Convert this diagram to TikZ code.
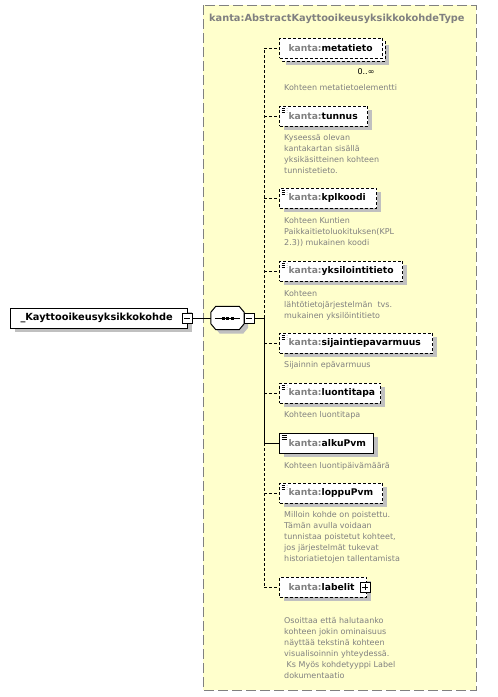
\documentclass[tikz,border=0pt]{standalone}
\usepackage{fontspec}
\setmainfont{DejaVu Sans}
\usetikzlibrary{shadows}
\definecolor{ybg}{RGB}{255,255,204}
\definecolor{kgray}{RGB}{128,128,128}
\definecolor{dgray}{RGB}{128,128,128}
\definecolor{bgray}{RGB}{128,128,128}
\definecolor{shd}{RGB}{192,192,192}
\newcommand\eltxt[2]{\hspace*{9pt}\makebox[#1][l]{\textcolor{kgray}{kanta:}#2}}
\begin{document}
\begin{tikzpicture}[x=1pt,y=-1pt,
  shad/.style={general shadow={fill=shd, shadow xshift=4pt, shadow yshift=-4pt}},
  ybox/.style={fill=ybg, draw=bgray, line width=1pt, dash pattern=on 10pt off 4pt},
  elembase/.style={draw=black, fill=white, line width=1pt, minimum height=20pt,
    inner xsep=0pt, inner ysep=0pt, anchor=west, font=\fontsize{9.2}{11}\selectfont\bfseries},
  elem/.style={elembase, shad},
  optbox/.style={dash pattern=on 3pt off 2pt},
  doc/.style={path picture={\foreach \k in {2pt,4pt,6pt}{\draw[line width=0.7pt]
      ([xshift=2pt,yshift=-\k]path picture bounding box.north west) -- ++(5pt,0pt);}}},
  desc/.style={anchor=north west, inner sep=0pt, align=left, text=dgray,
    font=\fontsize{8}{11}\selectfont},
  conn/.style={line width=1pt},
  optconn/.style={conn, dash pattern=on 3pt off 2pt},
  pmbase/.style={draw, fill=white, line width=0.8pt, minimum size=10pt, inner sep=0pt},
  minusbox/.style={pmbase,
    path picture={\draw[line width=0.8pt] ([xshift=2pt]path picture bounding box.west)
      -- ([xshift=-2pt]path picture bounding box.east);}},
  plusbox/.style={pmbase, path picture={\draw[line width=0.8pt]
      ([xshift=2pt]path picture bounding box.west) -- ([xshift=-2pt]path picture bounding box.east)
      ([yshift=-2pt]path picture bounding box.north) -- ([yshift=2pt]path picture bounding box.south);}}
]
\useasboundingbox (0,0) rectangle (498,697);
% type box
\draw[ybox] (203,5) rectangle (476,690);
\node[anchor=west, inner sep=0pt, text=kgray, font=\fontsize{9.8}{11}\selectfont\bfseries] (title) at (209,19) {kanta:AbstractKayttooikeusyksikkokohdeType};

% main element
\node[elem, minimum width=177pt, font=\fontsize{9.8}{11}\selectfont\bfseries] (main) at (10,318) {\hspace*{10pt}\makebox[167pt][l]{\_Kayttooikeusyksikkokohde}};
\node[minusbox] (mainm) at (187,318) {};

% sequence compositor
\node[minimum width=33pt, minimum height=23pt, inner sep=0pt] (seq) at (227.5,318) {};
\draw[line width=1pt, fill=white, shad] ([xshift=5pt]seq.north west) -- ([xshift=-5pt]seq.north east)
  -- ([yshift=-6pt]seq.north east) -- ([yshift=6pt]seq.south east) -- ([xshift=-5pt]seq.south east)
  -- ([xshift=5pt]seq.south west) -- ([yshift=6pt]seq.south west) -- ([yshift=-6pt]seq.north west) -- cycle;
\draw[line width=1pt] ([xshift=4pt]seq.west) -- ([xshift=-4pt]seq.east);
\foreach \dx in {-4.5pt,0pt,4.5pt}{\fill ([xshift=\dx]seq.center) ++(-1.5pt,-1.5pt) rectangle ++(3pt,3pt);}
\node[minusbox] (seqm) at (249,318) {};

\draw[conn] (mainm.east) -- (seq.west);

% bus
\coordinate (vtop) at (264,48);
\coordinate (vmid) at (264,318);
\coordinate (valk) at (264,443);
\coordinate (vbot) at (264,587);
\draw[conn] (seqm.east) -- (vmid);
\draw[optconn] (vmid) -- (vtop);
\draw[conn] (vmid) -- (valk);
\draw[optconn] (valk) -- (vbot);

% elements
\draw[optbox, line width=1pt, fill=white, shad] (282,41) rectangle (385,61);
\node[elembase, optbox, minimum width=103pt] (meta) at (279,48) {\eltxt{94pt}{metatieto}};
\node[font=\fontsize{8}{10}\selectfont, inner sep=0pt] (card) at (366,72) {0..∞};
\node[elem, optbox, doc, minimum width=88pt] (tunnus) at (279,116) {\eltxt{79pt}{tunnus}};
\node[elem, optbox, doc, minimum width=97pt] (kpl) at (279,198) {\eltxt{88pt}{kplkoodi}};
\node[elem, optbox, doc, minimum width=123pt] (yks) at (279,271) {\eltxt{114pt}{yksilointitieto}};
\node[elem, optbox, doc, minimum width=153pt] (sij) at (279,343) {\eltxt{144pt}{sijaintiepavarmuus}};
\node[elem, optbox, doc, minimum width=101pt] (luo) at (279,393) {\eltxt{92pt}{luontitapa}};
\node[elem, doc, minimum width=94pt] (alku) at (279,443) {\eltxt{85pt}{alkuPvm}};
\node[elem, optbox, doc, minimum width=103pt] (loppu) at (279,493) {\eltxt{94pt}{loppuPvm}};
\node[elem, optbox, minimum width=87pt] (lab) at (279,587) {\eltxt{78pt}{labelit}};
\node[plusbox] (labp) at (365,587) {};

% connectors
\draw[optconn] (vtop) -- (meta.west);
\draw[optconn] (vtop |- tunnus.west) -- (tunnus.west);
\draw[optconn] (vtop |- kpl.west) -- (kpl.west);
\draw[optconn] (vtop |- yks.west) -- (yks.west);
\draw[optconn] (vtop |- sij.west) -- (sij.west);
\draw[optconn] (vtop |- luo.west) -- (luo.west);
\draw[conn] (valk) -- (alku.west);
\draw[optconn] (vtop |- loppu.west) -- (loppu.west);
\draw[optconn] (vbot) -- (lab.west);

% descriptions
\node[desc] (d1) at (284,84) {Kohteen metatietoelementti};
\node[desc] (d2) at (284,134) {Kyseessä olevan\\kantakartan sisällä\\yksikäsitteinen kohteen\\tunnistetieto.};
\node[desc] (d3) at (284,217) {Kohteen Kuntien\\Paikkaitietoluokituksen(KPL\\2.3)) mukainen koodi};
\node[desc] (d4) at (284,290) {Kohteen\\lähtötietojärjestelmän\ \ tvs.\\mukainen yksilöintitieto};
\node[desc] (d5) at (284,361) {Sijainnin epävarmuus};
\node[desc] (d6) at (284,411) {Kohteen luontitapa};
\node[desc] (d7) at (284,462) {Kohteen luontipäivämäärä};
\node[desc] (d8) at (284,511) {Milloin kohde on poistettu.\\Tämän avulla voidaan\\tunnistaa poistetut kohteet,\\jos järjestelmät tukevat\\historiatietojen tallentamista};
\node[desc] (d9) at (284,617) {Osoittaa että halutaanko\\kohteen jokin ominaisuus\\näyttää tekstinä kohteen\\visualisoinnin yhteydessä.\\\hspace*{2.5pt}Ks Myös kohdetyyppi Label\\dokumentaatio};
\end{tikzpicture}
\end{document}
